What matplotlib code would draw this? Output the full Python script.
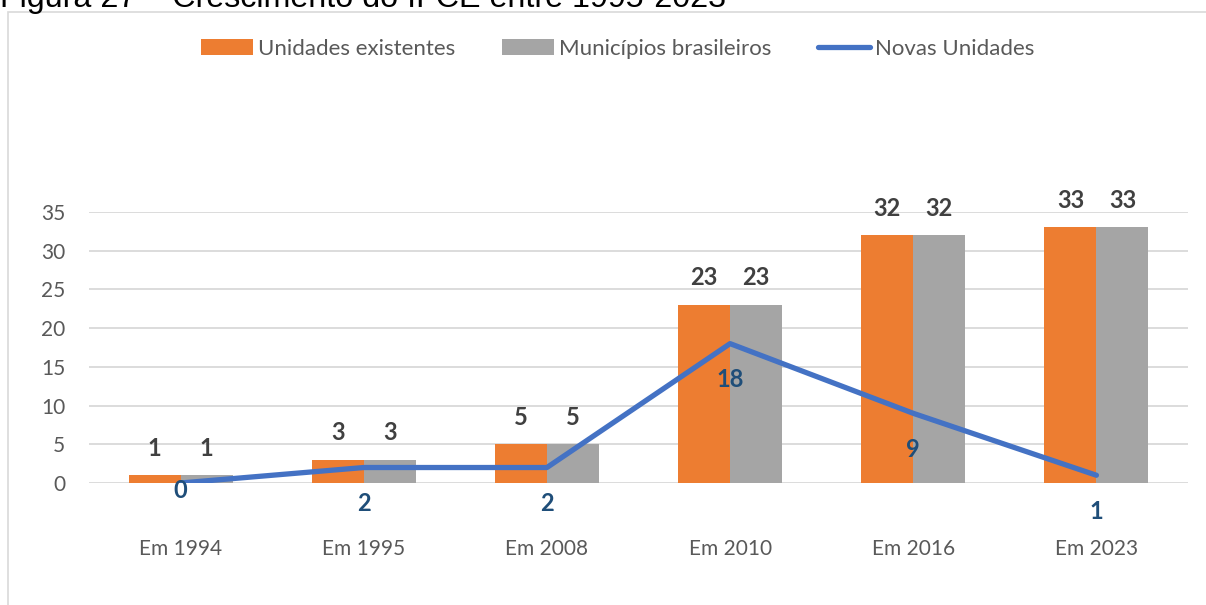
import matplotlib
matplotlib.use("Agg")
import matplotlib.pyplot as plt
from matplotlib.patches import Rectangle, Patch
from matplotlib.lines import Line2D
import numpy as np

categories = ["Em 1994", "Em 1995", "Em 2008", "Em 2010", "Em 2016", "Em 2023"]
unidades_existentes = [1, 3, 5, 23, 32, 33]
municipios_brasileiros = [1, 3, 5, 23, 32, 33]
novas_unidades = [0, 2, 2, 18, 9, 1]
yticks = [0, 5, 10, 15, 20, 25, 30, 35]
series_names = ["Unidades existentes", "Municípios brasileiros", "Novas Unidades"]
title = "Figura 27 – Crescimento do IFCE entre 1995-2023"

ORANGE = "#ED7D31"
GRAY = "#A5A5A5"
BLUE = "#4472C4"
DARKBLUE = "#1F4E79"
TXT = "#595959"
LBL = "#404040"
FONT = ["Lato", "DejaVu Sans"]

W, H = 1206, 605
fig = plt.figure(figsize=(W / 100, H / 100), dpi=100)
plt.rcParams["font.family"] = FONT

# chart frame
fig.patches.append(Rectangle((8 / W, -0.05), 1.2, 1 - 12 / H + 0.05, transform=fig.transFigure,
                             facecolor="none", edgecolor="#D9D9D9", linewidth=1.2, zorder=-1))

fig.text(0.0, 1 - 7 / H, title, family=["Liberation Sans"], fontsize=23.2, color="black",
         va="baseline", ha="left")

ax = fig.add_axes([89 / W, 1 - 483 / H, (1188 - 89) / W, (483 - 212) / H])
ax.set_facecolor("none")
x = np.arange(len(categories))
bw = 0.284
b1 = ax.bar(x - bw / 2, unidades_existentes, bw, color=ORANGE, zorder=2)
b2 = ax.bar(x + bw / 2, municipios_brasileiros, bw, color=GRAY, zorder=2)
ax.plot(x, novas_unidades, color=BLUE, linewidth=3.8, solid_capstyle="round", zorder=3)

ax.set_xlim(-0.5, len(categories) - 0.5)
ax.set_ylim(0, 35)
ax.set_yticks(yticks)
ax.yaxis.grid(True, color="#D9D9D9", linewidth=1.3, zorder=0)
ax.set_axisbelow(True)
for s in ax.spines.values():
    s.set_visible(False)
ax.tick_params(axis="both", length=0, colors=TXT, labelsize=15)
ax.tick_params(axis="y", pad=17)
ax.tick_params(axis="x", pad=40)
ax.set_xticks(x)
ax.set_xticklabels(categories)

for bars, vals in ((b1, unidades_existentes), (b2, municipios_brasileiros)):
    for rect, v in zip(bars, vals):
        ax.annotate(str(v), (rect.get_x() + rect.get_width() / 2, v), xytext=(0, 19.5),
                    textcoords="offset points", ha="center", va="center",
                    fontsize=17, fontweight="bold", color=LBL, annotation_clip=False)

line_offsets = [-5.5, -26, -26, -26, -26, -26]
for xi, v, off in zip(x, novas_unidades, line_offsets):
    ax.annotate(str(v), (xi, v), xytext=(0, off), textcoords="offset points",
                ha="center", va="center", fontsize=17, fontweight="bold",
                color=DARKBLUE, annotation_clip=False)

handles = [Patch(facecolor=ORANGE), Patch(facecolor=GRAY),
           Line2D([0], [0], color=BLUE, linewidth=3.8, solid_capstyle="round")]
fig.legend(handles, series_names, loc="center", bbox_to_anchor=(618 / W, 1 - 49 / H), ncol=3,
           frameon=False, fontsize=16, handlelength=2.34, handleheight=0.7, handletextpad=0.22,
           columnspacing=2.1, labelcolor=TXT)

fig.savefig("out.png", dpi=100)
